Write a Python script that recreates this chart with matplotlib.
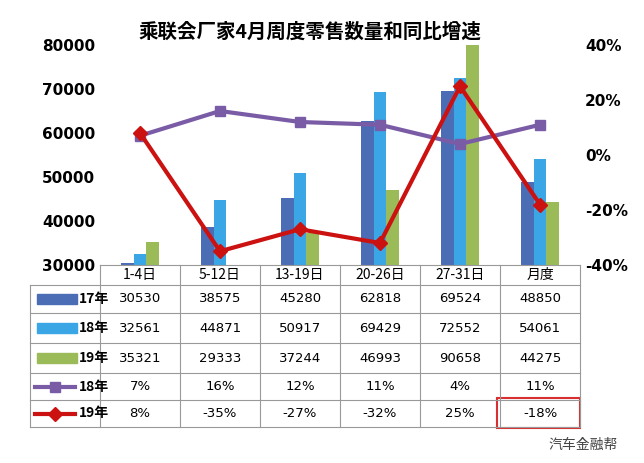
import matplotlib.pyplot as plt
from matplotlib.lines import Line2D
import matplotlib.patches as patches
import numpy as np

CJK = ['Noto Sans CJK SC', 'Noto Sans CJK JP', 'DejaVu Sans']
NUM_FONT = 'DejaVu Sans'
plt.rcParams['font.family'] = CJK

categories = ['1-4日', '5-12日', '13-19日', '20-26日', '27-31日', '月度']
sales_17 = [30530, 38575, 45280, 62818, 69524, 48850]
sales_18 = [32561, 44871, 50917, 69429, 72552, 54061]
sales_19 = [35321, 29333, 37244, 46993, 90658, 44275]
growth_18 = [7, 16, 12, 11, 4, 11]
growth_19 = [8, -35, -27, -32, 25, -18]
growth_18_labels = ['7%', '16%', '12%', '11%', '4%', '11%']
growth_19_labels = ['8%', '-35%', '-27%', '-32%', '25%', '-18%']

c17, c18, c19 = '#4a6db5', '#3aa6e6', '#9bbb59'
c_l18, c_l19 = '#7a5ca6', '#cc1111'

W, H = 644, 463
fig = plt.figure(figsize=(W / 100, H / 100), dpi=100)

x0, x1, ytop, ybot = 100, 580, 45, 265
ax = fig.add_axes([x0 / W, 1 - ybot / H, (x1 - x0) / W, (ybot - ytop) / H])
x = np.arange(len(categories))
bw = 0.16
ax.bar(x - bw, sales_17, bw, color=c17)
ax.bar(x, sales_18, bw, color=c18)
ax.bar(x + bw, sales_19, bw, color=c19)
ax.set_xlim(-0.5, len(categories) - 0.5)
ax.set_ylim(30000, 80000)
ax.set_yticks(range(30000, 80001, 10000))
ax.tick_params(axis='y', labelsize=11, length=0)
for t in ax.get_yticklabels():
    t.set_fontweight('bold')
    t.set_fontfamily(NUM_FONT)
ax.set_xticks([])
for s in ax.spines.values():
    s.set_visible(False)

ax2 = ax.twinx()
ax2.plot(x, growth_18, color=c_l18, lw=3, marker='s', ms=7)
ax2.plot(x, growth_19, color=c_l19, lw=3, marker='D', ms=7)
ax2.set_ylim(-40, 40)
ax2.set_yticks([-40, -20, 0, 20, 40])
ax2.set_yticklabels(['-40%', '-20%', '0%', '20%', '40%'])
ax2.tick_params(axis='y', labelsize=11, length=0)
for t in ax2.get_yticklabels():
    t.set_fontweight('bold')
    t.set_fontfamily(NUM_FONT)
for s in ax2.spines.values():
    s.set_visible(False)

fig.text(310 / W, 1 - 32 / H, '乘联会厂家4月周度零售数量和同比增速',
         ha='center', va='center', fontsize=14, fontweight='bold', fontfamily=CJK)

# table
rows_y = [265, 285, 313, 343, 373, 400, 427]
left_col = 30
colw = (x1 - x0) / len(categories)
gray = '#999999'

def fx(px):
    return px / W

def fy(py):
    return 1 - py / H

lines_kw = dict(color=gray, lw=0.8, transform=fig.transFigure)
fig.add_artist(Line2D([fx(x0), fx(x1)], [fy(rows_y[0])] * 2, **lines_kw))
for ry in rows_y[1:]:
    fig.add_artist(Line2D([fx(left_col), fx(x1)], [fy(ry)] * 2, **lines_kw))
fig.add_artist(Line2D([fx(left_col)] * 2, [fy(rows_y[1]), fy(rows_y[-1])], **lines_kw))
for i in range(len(categories) + 1):
    xx = x0 + i * colw
    fig.add_artist(Line2D([fx(xx)] * 2, [fy(rows_y[0]), fy(rows_y[-1])], **lines_kw))

for i, c in enumerate(categories):
    fig.text(fx(x0 + (i + 0.5) * colw), fy((rows_y[0] + rows_y[1]) / 2), c,
             ha='center', va='center', fontsize=10, fontfamily=CJK)

row_data = [
    ('17年', [str(v) for v in sales_17], 'bar', c17),
    ('18年', [str(v) for v in sales_18], 'bar', c18),
    ('19年', [str(v) for v in sales_19], 'bar', c19),
    ('18年', growth_18_labels, 'line_s', c_l18),
    ('19年', growth_19_labels, 'line_d', c_l19),
]
for r, (name, vals, kind, col) in enumerate(row_data):
    yc = (rows_y[r + 1] + rows_y[r + 2]) / 2
    if kind == 'bar':
        fig.add_artist(patches.Rectangle((fx(37), fy(yc + 5)), 40 / W, 10 / H,
                                         color=col, transform=fig.transFigure))
    else:
        mk = 's' if kind == 'line_s' else 'D'
        fig.add_artist(Line2D([fx(35), fx(75)], [fy(yc)] * 2, color=col, lw=3,
                              transform=fig.transFigure))
        fig.add_artist(Line2D([fx(55)], [fy(yc)], color=col, marker=mk, ms=7,
                              transform=fig.transFigure))
    fig.text(fx(79), fy(yc), name, ha='left', va='center', fontsize=10,
             fontweight='bold', fontfamily=CJK)
    for i, v in enumerate(vals):
        fig.text(fx(x0 + (i + 0.5) * colw), fy(yc), v, ha='center', va='center',
                 fontsize=9.5, fontfamily=NUM_FONT)

fig.add_artist(patches.Rectangle((fx(x0 + 5 * colw - 3), fy(428)), (colw + 3) / W, 30 / H,
                                 fill=False, edgecolor='#d83030', lw=1.5,
                                 transform=fig.transFigure))

fig.text(fx(548), fy(445), '汽车金融帮', ha='left', va='center', fontsize=10,
         color='#444444', fontfamily=CJK)

fig.savefig('out.png', dpi=100)
